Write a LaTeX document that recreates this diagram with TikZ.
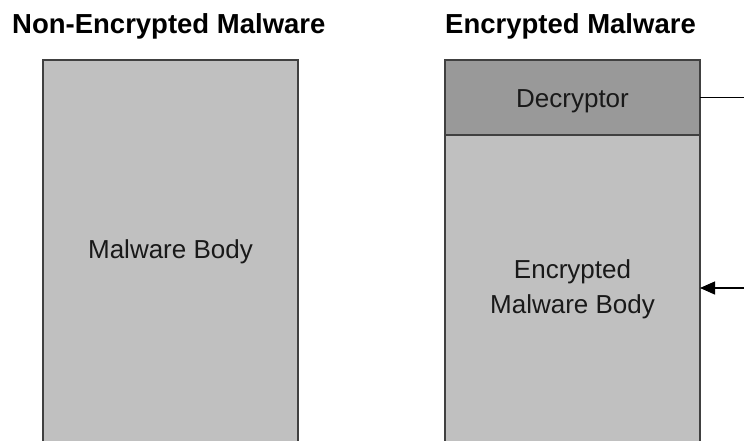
\documentclass[tikz,border=0pt]{standalone}
\usepackage{fontspec}
\setmainfont{Liberation Sans}
\usetikzlibrary{arrows.meta}
\definecolor{boxfill}{HTML}{C0C0C0}
\definecolor{decfill}{HTML}{999999}
\definecolor{edge}{HTML}{404040}
\tikzset{
  title/.style={anchor=base west, inner sep=0pt, font=\fontsize{27.5}{30}\selectfont\bfseries},
  bodytext/.style={font=\fontsize{26}{35}\selectfont, align=center, text=black!90},
  box/.style={draw=edge, line width=1.2pt, fill=boxfill},
  decbox/.style={draw=edge, line width=1.2pt, fill=decfill},
  conn/.style={line width=1.3pt, draw=black}
}
\begin{document}
\begin{tikzpicture}[x=1pt,y=1pt]
\useasboundingbox (0,0) rectangle (744,-440);
\clip (0,0) rectangle (744,-440);
\node[title] (t1) at (12,-33) {Non-Encrypted Malware};
\node[title] (t2) at (445,-33) {Encrypted Malware};
% left box
\draw[box] (43,-60) rectangle (298,-445);
\node[bodytext] (mb) at (170.5,-252) {Malware Body};
% right box
\draw[box] (445,-135) rectangle (700,-445);
\draw[decbox] (445,-60) rectangle (700,-135);
\node[bodytext] (dec) at (572.5,-101) {Decryptor};
\node[bodytext] (emb) at (572.5,-289.5) {Encrypted\\Malware Body};
\coordinate (decE) at (700,-97.5);
\coordinate (embE) at (700,-288);
\draw[conn, -{Triangle[length=15pt,width=13pt]}] (decE) -- ++(48,0) |- (embE);
\end{tikzpicture}
\end{document}
